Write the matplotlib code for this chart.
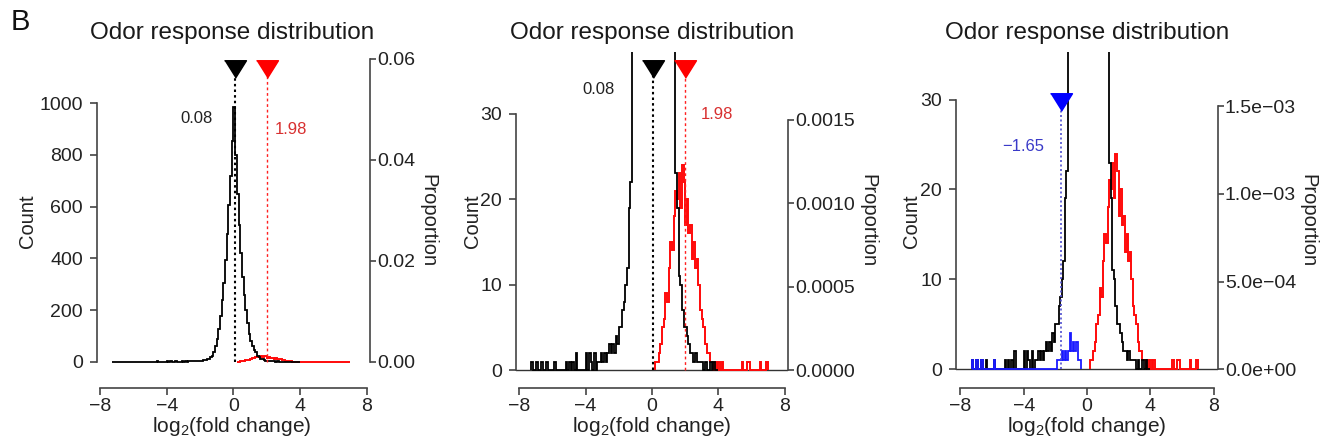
import numpy as np
import matplotlib
matplotlib.use("Agg")
import matplotlib.pyplot as plt

plt.rcParams["font.family"] = ["Liberation Sans", "DejaVu Sans"]
plt.rcParams["mathtext.fontset"] = "custom"
plt.rcParams["mathtext.rm"] = "Liberation Sans"

# histogram data (bin width 0.1, counts)
BIN = 0.1
black_start = -7.3
black_counts = [
    1, 0, 0, 1, 0, 0, 1, 0, 0, 1,
    0, 0, 0, 0, 1, 0, 0, 0, 0, 0,
    0, 1, 0, 1, 0, 1, 0, 2, 0, 0,
    0, 0, 0, 2, 0, 2, 1, 0, 2, 0,
    1, 1, 2, 1, 2, 1, 2, 3, 2, 3,
    2, 4, 3, 5, 5, 7, 8, 10, 12, 19,
    22, 40, 60, 88, 128, 178, 240, 305, 395, 495,
    605, 720, 855, 985, 800, 650, 530, 420, 330, 260,
    200, 150, 110, 80, 60, 45, 38, 23, 19, 11,
    10, 7, 5, 5, 4, 3, 2, 2, 1, 2,
    1, 1, 1, 1, 0, 1, 0, 0, 1, 0,
    1, 0, 0,
]
red_start = 0.2
red_counts = [
    1, 1, 2, 3, 5, 6, 9, 8, 12, 15,
    14, 18, 21, 20, 23, 19, 24, 22, 17, 20,
    16, 17, 13, 15, 12, 13, 10, 7, 6, 5,
    3, 2, 2, 1, 1, 0, 1, 0, 1, 0,
    1, 0, 0, 0, 0, 0, 0, 0, 0, 0,
    0, 0, 1, 0, 0, 1, 1, 0, 0, 0,
    0, 0, 0, 1, 0, 0, 0, 1,
]
blue_start = -7.3
blue_counts = [
    1, 0, 0, 1, 0, 0, 1, 0, 0, 0,
    0, 0, 0, 0, 1, 0, 0, 0, 0, 0,
    0, 0, 0, 0, 0, 0, 0, 0, 0, 0,
    0, 0, 0, 0, 0, 0, 0, 0, 0, 0,
    0, 0, 0, 0, 0, 0, 0, 0, 0, 0,
    0, 0, 0, 0, 1, 1, 1, 2, 1, 2,
    1, 2, 4, 2, 3, 2, 3, 1, 1,
]

median_black = 0.08
median_red = 1.98
median_blue = -1.65
n_total = 19500  # count -> proportion

x_ticks = [-8, -4, 0, 4, 8]
x_tick_labels = ["\u22128", "\u22124", "0", "4", "8"]

W, H = 1320, 441

panels = [
    dict(l=97, r=370, t=52, b=388, xlim=(-8.18, 8.18), ylim=(-100.4, 1197),
         cticks=[0, 200, 400, 600, 800, 1000],
         pticks=[0, 0.02, 0.04, 0.06],
         plabels=["0.00", "0.02", "0.04", "0.06"],
         tri=1131, marks=["black", "red"], base=False,
         count_x=27, prop_x=428, title_x=232,
         txt=[("0.08", -2.19, 942, "#222222"), ("1.98", 3.45, 896, "#d83030")]),
    dict(l=516, r=788, t=52, b=388, xlim=(-8.2, 8.2), ylim=(-2.09, 37.2),
         cticks=[0, 10, 20, 30],
         pticks=[0, 0.0005, 0.0010, 0.0015],
         plabels=["0.0000", "0.0005", "0.0010", "0.0015"],
         tri=35.2, marks=["black", "red"], base=True,
         count_x=472, prop_x=868, title_x=652,
         txt=[("0.08", -3.22, 32.8, "#222222"), ("1.98", 3.89, 29.9, "#d83030")]),
    dict(l=956, r=1218, t=52, b=388, xlim=(-8.28, 8.28), ylim=(-2.1, 35.3),
         cticks=[0, 10, 20, 30],
         pticks=[0, 0.0005, 0.0010, 0.0015],
         plabels=["0.0e+00", "5.0e\u221204", "1.0e\u221203", "1.5e\u221203"],
         tri=29.7, marks=["blue"], base=True,
         count_x=912, prop_x=1308, title_x=1087,
         txt=[("\u22121.65", -4.01, 24.8, "#3a3ac8")]),
]

AXC = "#444444"
tri_marker = [(-1, 0.8), (1, 0.8), (0, -0.8)]


def edges(start, counts):
    return np.round(start + BIN * np.arange(len(counts) + 1), 2)


fig = plt.figure(figsize=(W / 100, H / 100), dpi=100)

for p in panels:
    ax = fig.add_axes([p["l"] / W, 1 - p["b"] / H,
                       (p["r"] - p["l"]) / W, (p["b"] - p["t"]) / H])
    ax.set_xlim(*p["xlim"])
    ax.set_ylim(*p["ylim"])
    ax.patch.set_alpha(0)

    if p["base"]:
        ax.axhline(0, color="#333333", lw=1, zorder=1)
    ax.stairs(red_counts, edges(red_start, red_counts), color="#ff0a0a",
              lw=1.4, zorder=2)
    ax.stairs(black_counts, edges(black_start, black_counts), color="black",
              lw=1.3, zorder=3)
    if "blue" in p["marks"]:
        ax.stairs(blue_counts, edges(blue_start, blue_counts), color="#1a1aff",
                  lw=1.3, zorder=4)

    # median markers
    if "black" in p["marks"]:
        ax.plot([median_black] * 2, [0, p["tri"]], ls=(0, (1.2, 1.5)),
                color="black", lw=1.5, zorder=5, clip_on=False)
        ax.plot(median_black, p["tri"], marker=tri_marker, ms=15.8,
                color="black", ls="none", zorder=6, clip_on=False)
    if "red" in p["marks"]:
        ax.plot([median_red] * 2, [0, p["tri"]], ls=(0, (2, 2)),
                color="#ff2020", lw=1, zorder=5, clip_on=False)
        ax.plot(median_red, p["tri"], marker=tri_marker, ms=15.8,
                color="#ff0000", ls="none", zorder=6, clip_on=False)
    if "blue" in p["marks"]:
        ax.plot([median_blue] * 2, [0, p["tri"]], ls=(0, (1.2, 1.5)),
                color="#5050d0", lw=1.2, zorder=5, clip_on=False)
        ax.plot(median_blue, p["tri"], marker=tri_marker, ms=15.8,
                color="#0000ff", ls="none", zorder=6, clip_on=False)

    for s, x, y, c in p["txt"]:
        ax.text(x, y, s, ha="center", va="center", fontsize=12, color=c)

    # axes in R style
    for side in ["top", "right"]:
        ax.spines[side].set_visible(False)
    ax.spines["left"].set_bounds(0, p["cticks"][-1])
    ax.spines["bottom"].set_bounds(-8, 8)
    for side in ["left", "bottom"]:
        ax.spines[side].set_color(AXC)
        ax.spines[side].set_linewidth(1.2)
    ax.set_xticks(x_ticks)
    ax.set_xticklabels(x_tick_labels)
    ax.set_yticks(p["cticks"])
    ax.tick_params(axis="both", direction="out", length=5, width=1.2,
                   color=AXC, labelsize=14, labelcolor="#222222")
    ax.tick_params(axis="x", pad=2)
    ax.tick_params(axis="y", pad=5)

    ax2 = ax.twinx()
    ax2.set_ylim(p["ylim"][0] / n_total, p["ylim"][1] / n_total)
    for side in ["top", "left", "bottom"]:
        ax2.spines[side].set_visible(False)
    ax2.spines["right"].set_bounds(0, p["pticks"][-1])
    ax2.spines["right"].set_color(AXC)
    ax2.spines["right"].set_linewidth(1.2)
    ax2.set_yticks(p["pticks"])
    ax2.set_yticklabels(p["plabels"])
    ax2.tick_params(axis="y", direction="out", length=4, width=1.2,
                    color=AXC, labelsize=14, labelcolor="#222222", pad=1)

    # labels
    fig.text(p["title_x"] / W, 1 - 33 / H, "Odor response distribution",
             ha="center", va="center", fontsize=17.5, color="#1a1a1a")
    fig.text(p["title_x"] / W, 1 - 427 / H,
             r"log$_{\mathregular{2}}$(fold change)",
             ha="center", va="center", fontsize=15, color="#222222")
    fig.text(p["count_x"] / W, 1 - 221 / H, "Count", rotation=90,
             ha="center", va="center", fontsize=14.5, color="#222222")
    fig.text(p["prop_x"] / W, 1 - 221 / H, "Proportion", rotation=-90,
             ha="center", va="center", fontsize=14.5, color="#222222")

fig.text(20 / W, 1 - 22 / H, "B", ha="center", va="center", fontsize=21,
         color="#111111")

fig.savefig("out.png", dpi=100, facecolor="white")
